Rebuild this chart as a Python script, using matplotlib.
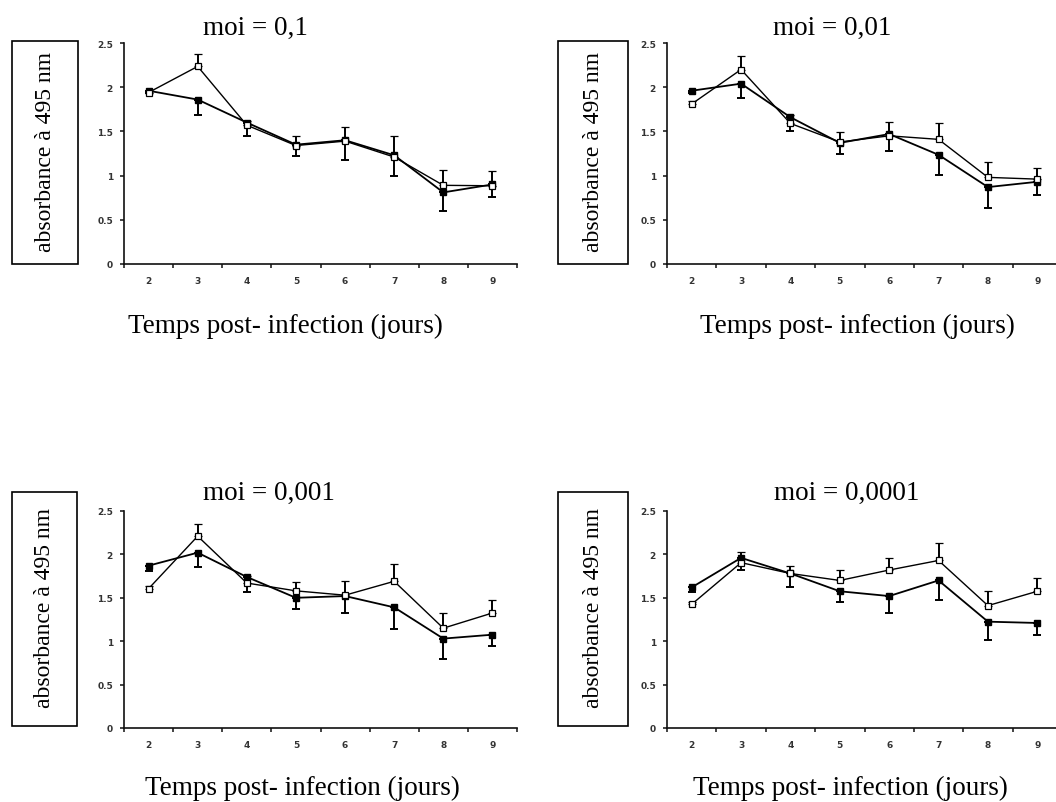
import matplotlib
matplotlib.use("Agg")
import matplotlib.pyplot as plt
from matplotlib.patches import Rectangle
from matplotlib.ticker import FixedLocator, NullFormatter

# ---------------- data ----------------
days = [2, 3, 4, 5, 6, 7, 8, 9]
y_ticks = [0, 0.5, 1, 1.5, 2, 2.5]
y_tick_labels = ["0", "0.5", "1", "1.5", "2", "2.5"]

titles = ["moi = 0,1", "moi = 0,01", "moi = 0,001", "moi = 0,0001"]
xlabel = "Temps post- infection (jours)"
ylabel = "absorbance à 495 nm"

open_1 = [1.94, 2.235, 1.57, 1.34, 1.39, 1.21, 0.89, 0.885]
open_err_1 = [0.02, 0.135, 0.05, 0.11, 0.165, 0.24, 0.175, 0.165]
filled_1 = [1.96, 1.86, 1.60, 1.35, 1.40, 1.23, 0.81, 0.90]
filled_err_1 = [0.02, 0.18, 0.15, 0.125, 0.22, 0.24, 0.21, 0.145]

open_2 = [1.81, 2.20, 1.59, 1.38, 1.45, 1.41, 0.98, 0.96]
open_err_2 = [0.03, 0.15, 0.09, 0.11, 0.16, 0.18, 0.17, 0.13]
filled_2 = [1.96, 2.04, 1.66, 1.37, 1.47, 1.235, 0.87, 0.93]
filled_err_2 = [0.03, 0.16, 0.15, 0.13, 0.19, 0.225, 0.24, 0.15]

open_3 = [1.605, 2.21, 1.67, 1.58, 1.53, 1.69, 1.15, 1.325]
open_err_3 = [0.03, 0.14, 0.08, 0.10, 0.16, 0.20, 0.18, 0.15]
filled_3 = [1.87, 2.02, 1.74, 1.50, 1.52, 1.39, 1.03, 1.075]
filled_err_3 = [0.06, 0.16, 0.17, 0.125, 0.19, 0.25, 0.24, 0.125]

open_4 = [1.425, 1.905, 1.78, 1.70, 1.82, 1.93, 1.41, 1.575]
open_err_4 = [0.03, 0.125, 0.09, 0.12, 0.14, 0.20, 0.17, 0.155]
filled_4 = [1.62, 1.96, 1.78, 1.575, 1.52, 1.70, 1.225, 1.21]
filled_err_4 = [0.05, 0.14, 0.16, 0.125, 0.19, 0.22, 0.215, 0.135]

opens = [open_1, open_2, open_3, open_4]
open_errs = [open_err_1, open_err_2, open_err_3, open_err_4]
filleds = [filled_1, filled_2, filled_3, filled_4]
filled_errs = [filled_err_1, filled_err_2, filled_err_3, filled_err_4]

# ---------------- layout (pixels) ----------------
W, H = 1056, 803
fig = plt.figure(figsize=(W / 100, H / 100), dpi=100)
fig.patch.set_facecolor("white")

def fx(x):
    return x / W

def fy(y):
    return 1 - y / H

# axes: left, right, top, bottom in pixels
axes_px = [(124, 517, 44, 265), (667, 1062, 44, 265),
           (124, 517, 512, 729), (667, 1062, 512, 729)]
boxes_px = [(12, 78, 42, 265), (558, 628, 42, 265),
            (12, 77, 493, 727), (558, 628, 493, 727)]
title_px = [(255, 35), (832, 35), (269, 500), (847, 500)]
xlabel_px = [(285, 333), (857, 333), (302, 795), (850, 795)]

serif = ["Liberation Serif", "DejaVu Serif"]

for i in range(4):
    l, r, t, b = axes_px[i]
    ax = fig.add_axes([fx(l), fy(b), (r - l) / W, (b - t) / H])
    ax.set_xlim(1.5, 9.5)
    ax.set_ylim(0, 2.5)
    for s in ["top", "right"]:
        ax.spines[s].set_visible(False)
    for s in ["left", "bottom"]:
        ax.spines[s].set_linewidth(1.2)
        ax.spines[s].set_color("#111111")

    # x: ticks at category boundaries, labels at category centres
    ax.xaxis.set_major_locator(FixedLocator([d - 0.5 for d in days] + [days[-1] + 0.5]))
    ax.xaxis.set_major_formatter(NullFormatter())
    ax.xaxis.set_minor_locator(FixedLocator(days))
    ax.set_xticklabels([str(d) for d in days], minor=True)
    ax.tick_params(axis="x", which="major", direction="out", length=3, width=1.1, color="#111111")
    ax.tick_params(axis="x", which="minor", length=0, pad=8.5, labelsize=6.5, labelcolor="#333333")
    for lab in ax.get_xticklabels(minor=True):
        lab.set_fontweight("bold")

    ax.set_yticks(y_ticks)
    ax.set_yticklabels(y_tick_labels)
    ax.tick_params(axis="y", direction="out", length=3, width=1.1, color="#111111",
                   pad=5, labelsize=6.5, labelcolor="#333333")
    for lab in ax.get_yticklabels():
        lab.set_fontweight("bold")

    o = opens[i]
    oe = open_errs[i]
    f = filleds[i]
    fe = filled_errs[i]
    zeros = [0] * len(days)
    ax.errorbar(days, f, yerr=[fe, zeros], color="black", lw=1.3, marker="s",
                markersize=4.5, markerfacecolor="black", markeredgecolor="black",
                ecolor="black", elinewidth=1.4, capsize=2.6, capthick=1.4,
                clip_on=False, zorder=3)
    ax.errorbar(days, o, yerr=[zeros, oe], color="black", lw=1.0, marker="s",
                markersize=4.2, markerfacecolor="white", markeredgecolor="black",
                markeredgewidth=0.9, ecolor="black", elinewidth=1.4, capsize=2.6,
                capthick=1.4, clip_on=False, zorder=4)

    # boxed y label
    bl, br, bt, bb = boxes_px[i]
    fig.patches.append(Rectangle((fx(bl), fy(bb)), (br - bl) / W, (bb - bt) / H,
                                 transform=fig.transFigure, fill=False,
                                 edgecolor="black", linewidth=1.2))
    fig.text(fx((bl + br) / 2 + 0.5), fy((bt + bb) / 2 - 1.5), ylabel, rotation=90,
             ha="center", va="center", fontsize=17, family=serif)

    tx, ty = title_px[i]
    fig.text(fx(tx), fy(ty), titles[i], ha="center", va="baseline",
             fontsize=19.5, family=serif)
    lx, ly = xlabel_px[i]
    fig.text(fx(lx), fy(ly), xlabel, ha="center", va="baseline",
             fontsize=19.5, family=serif)

fig.savefig("out.png", dpi=100, facecolor="white")
